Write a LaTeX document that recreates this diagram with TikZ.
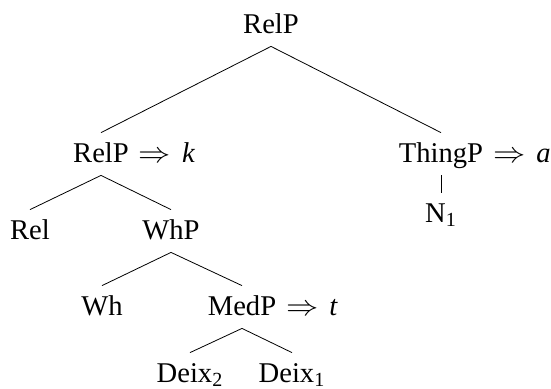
\documentclass[tikz,border=0pt]{standalone}
\usepackage{fontspec}
\setmainfont{Liberation Serif}
\newcommand{\yields}[1]{\rlap{\hspace{5pt}\scalebox{1.12}[1]{$\Rightarrow$}\hspace{5.5pt}\textit{#1}}}
\begin{document}
\begin{tikzpicture}[x=0.5pt,y=-0.5pt,
  tn/.style={anchor=base,inner xsep=0pt,inner ysep=5pt,text height=9.5pt,text depth=1.5pt,font=\fontsize{14.3}{16}\selectfont},
  br/.style={line width=0.4pt}]
\useasboundingbox (0,0) rectangle (551,388);
\node[tn] (root) at (271,33) {RelP};
\node[tn] (relp) at (101,162) {RelP\yields{k}};
\node[tn] (thing) at (441,162) {ThingP\yields{a}};
\node[tn] (rel) at (30,239) {Rel};
\node[tn] (whp) at (171,239) {WhP};
\node[tn] (n1) at (441,222) {N\textsubscript{1}};
\node[tn] (wh) at (102,315) {Wh};
\node[tn] (medp) at (242,315) {MedP\yields{t}};
\node[tn] (d2) at (190,382) {Deix\textsubscript{2}};
\node[tn] (d1) at (292,382) {Deix\textsubscript{1}};
\draw[br] (root.south) -- (relp.north);
\draw[br] (root.south) -- (thing.north);
\draw[br] (relp.south) -- (rel.north);
\draw[br] (relp.south) -- (whp.north);
\draw[br] (thing.south) -- (n1.north);
\draw[br] (whp.south) -- (wh.north);
\draw[br] (whp.south) -- (medp.north);
\draw[br] (medp.south) -- (d2.north);
\draw[br] (medp.south) -- (d1.north);
\end{tikzpicture}
\end{document}
